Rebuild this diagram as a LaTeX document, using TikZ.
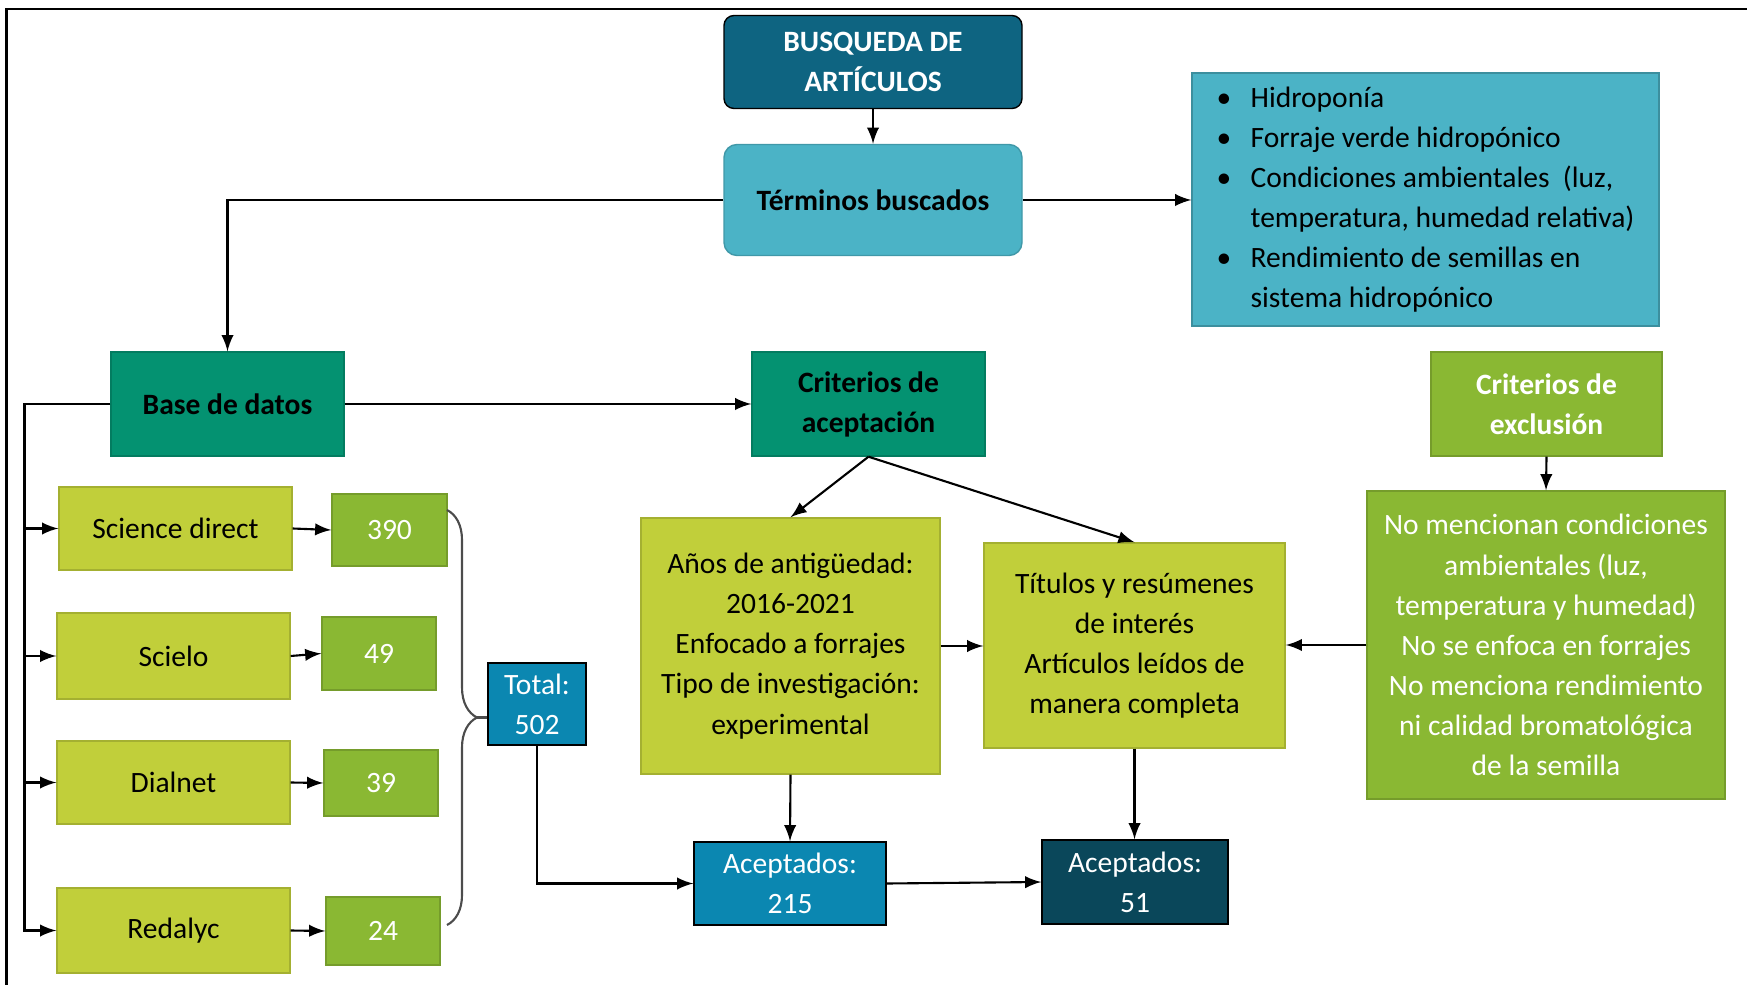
\documentclass[tikz,border=0pt]{standalone}
\usepackage{fontspec}
\setmainfont{Carlito}
\usepackage{tikz}
\usetikzlibrary{arrows,positioning,decorations.pathreplacing}

\definecolor{azuloscuro}{RGB}{14,100,129}
\definecolor{celeste}{RGB}{75,179,198}
\definecolor{verdeazul}{RGB}{4,146,113}
\definecolor{verde}{RGB}{138,184,51}
\definecolor{lima}{RGB}{193,207,58}
\definecolor{azul}{RGB}{11,135,177}
\definecolor{marino}{RGB}{10,71,90}

\newcommand{\punto}{\makebox[3.4mm][l]{\textbullet}}

\begin{document}
\begin{tikzpicture}[>=latex, line width=0.6pt,
	every node/.style={font=\fontsize{8.4}{11.4}\selectfont, align=center, inner sep=0pt},
	caja/.style={draw, thin},
	limabox/.style={caja, fill=lima, draw=lima!85!black},
	verdebox/.style={caja, fill=verde, draw=verde!85!black, text=white},
	tealbox/.style={caja, fill=verdeazul, draw=verdeazul!85!black, font=\fontsize{8.4}{11.4}\selectfont\bfseries},
	azulbox/.style={caja, draw=black, text=white}]

	\useasboundingbox (0,0) rectangle (17.47,-9.85);
	\draw[line width=0.8pt] (0.065,-9.85) |- (17.47,-0.09);

	\node (busq) [azulbox, fill=azuloscuro, rounded corners=1mm, minimum width=2.98cm, minimum height=0.93cm,
		font=\fontsize{8.4}{11.4}\selectfont\bfseries] at (8.73,-0.62) {BUSQUEDA DE\\ARTÍCULOS};
	\node (term) [caja, fill=celeste, draw=celeste!85!black, rounded corners=1.3mm, minimum width=2.98cm, minimum height=1.11cm,
		font=\fontsize{8.4}{11.4}\selectfont\bfseries] at (8.73,-2.00) {Términos buscados};
	\node (bul) [caja, fill=celeste, draw=celeste!80!black, minimum width=4.67cm, minimum height=2.53cm,
		align=left] at (14.255,-1.995)
		{\punto Hidroponía\\
		 \punto Forraje verde hidropónico\\
		 \punto Condiciones ambientales\ \ (luz,\\
		 \hspace*{3.4mm}temperatura, humedad relativa)\\
		 \punto Rendimiento de semillas en\\
		 \hspace*{3.4mm}sistema hidropónico};

	\node (base) [tealbox, minimum width=2.33cm, minimum height=1.04cm] at (2.275,-4.04) {Base de datos};
	\node (acep) [tealbox, minimum width=2.33cm, minimum height=1.04cm] at (8.685,-4.04) {Criterios de\\aceptación};
	\node (excl) [verdebox, minimum width=2.31cm, minimum height=1.04cm,
		font=\fontsize{8.4}{11.4}\selectfont\bfseries] at (15.465,-4.04) {Criterios de\\exclusión};

	\node (sd) [limabox, minimum width=2.33cm, minimum height=0.83cm] at (1.755,-5.285) {Science direct};
	\node (sci) [limabox, minimum width=2.33cm, minimum height=0.86cm] at (1.735,-6.56) {Scielo};
	\node (dia) [limabox, minimum width=2.33cm, minimum height=0.83cm] at (1.735,-7.825) {Dialnet};
	\node (red) [limabox, minimum width=2.33cm, minimum height=0.85cm] at (1.735,-9.305) {Redalyc};

	\node (n390) [verdebox, minimum width=1.15cm, minimum height=0.72cm] at (3.895,-5.30) {390};
	\node (n49) [verdebox, minimum width=1.14cm, minimum height=0.73cm] at (3.79,-6.535) {49};
	\node (n39) [verdebox, minimum width=1.14cm, minimum height=0.66cm] at (3.81,-7.83) {39};
	\node (n24) [verdebox, minimum width=1.14cm, minimum height=0.68cm] at (3.83,-9.31) {24};

	\node (total) [azulbox, fill=azul, minimum width=0.98cm, minimum height=0.82cm] at (5.37,-7.04) {Total:\\502};

	\node (anos) [limabox, minimum width=2.99cm, minimum height=2.56cm] at (7.905,-6.46)
		{Años de antigüedad:\\2016-2021\\Enfocado a forrajes\\Tipo de investigación:\\experimental};
	\node (tit) [limabox, minimum width=3.01cm, minimum height=2.05cm] at (11.345,-6.455)
		{Títulos y resúmenes\\de interés\\Artículos leídos de\\manera completa};
	\node (nom) [verdebox, minimum width=3.58cm, minimum height=3.08cm] at (15.46,-6.45)
		{No mencionan condiciones\\ambientales (luz,\\temperatura y humedad)\\No se enfoca en forrajes\\No menciona rendimiento\\ni calidad bromatológica\\de la semilla};

	\node (a215) [azulbox, fill=azul, minimum width=1.92cm, minimum height=0.83cm] at (7.90,-8.835) {Aceptados:\\215};
	\node (a51) [azulbox, fill=marino, minimum width=1.86cm, minimum height=0.84cm] at (11.35,-8.82) {Aceptados:\\51};

	\coordinate (L) at (0.245,-4.04);
	\coordinate (b1) at (4.47,-5.10);
	\coordinate (b2) at (4.47,-9.25);
	\coordinate (tip) at (4.77,-7.175);

	\draw[->] (busq) -- (term);
	\draw[->] (term.west) -| (base.north);
	\draw[->] (term.east) -- (term.east -| bul.west);
	\draw[->] (base.east) -- (acep.west);

	% bases de datos
	\draw[->] (base.west) -- (L) |- (red.west);
	\draw[->] (L |- sd.west) -- (sd.west);
	\draw[->] (L |- sci.west) -- (sci.west);
	\draw[->] (L |- dia.west) -- (dia.west);
	\draw[->] (sd.east) -- (n390.west);
	\draw[->] (sci.east) -- (n49.west);
	\draw[->] (dia.east) -- (n39.west);
	\draw[->] (red.east) -- (n24.west);

	\draw[black!70, decorate, decoration={brace, amplitude=0.3cm}] (b1) -- (b2);
	\draw[black!70] (tip) -- (tip -| total.west);

	\draw[->] (total.south) |- (a215.west);
	\draw[->] (acep.south) -- (anos.north);
	\draw[->] (acep.south) -- (tit.north);
	\draw[->] (anos.east) -- (anos.east -| tit.west);
	\draw[->] (nom.west) -- (nom.west -| tit.east);
	\draw[->] (excl.south) -- (nom.north);
	\draw[->] (anos.south) -- (a215.north);
	\draw[->] (tit.south) -- (tit.south |- a51.north);
	\draw[->] (a215.east) -- (a51.west);

\end{tikzpicture}
\end{document}
